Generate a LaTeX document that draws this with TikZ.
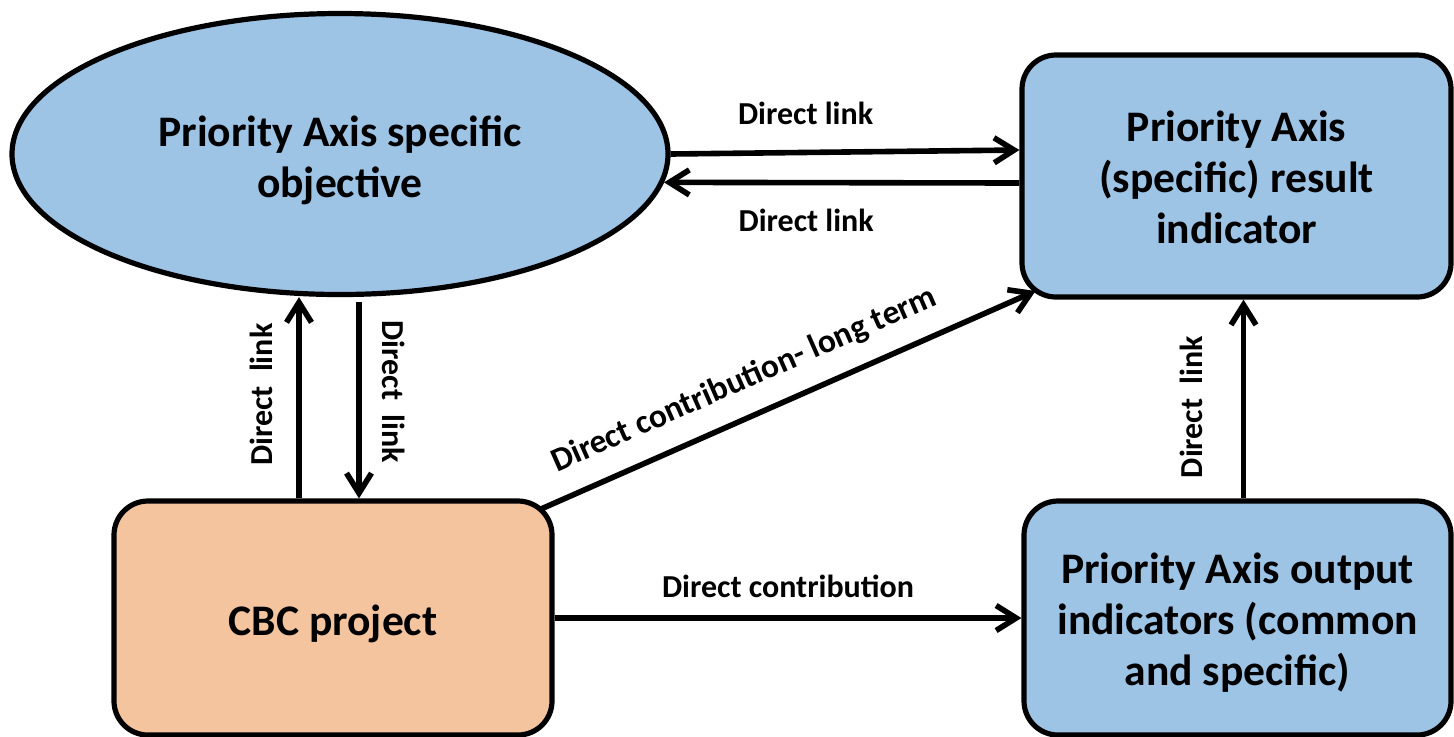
\documentclass[tikz,border=0pt]{standalone}
\usepackage{fontspec}
\setmainfont{Carlito}
\usetikzlibrary{arrows.meta,calc,shapes.geometric}
\definecolor{boxblue}{RGB}{157,195,229}
\definecolor{boxorange}{RGB}{244,196,158}
\begin{document}
\begin{tikzpicture}[x=0.5pt,y=-0.5pt,
  shapeline/.style={draw=black, line width=2.6pt, inner sep=0pt},
  roundbox/.style={shapeline, rectangle, rounded corners=17pt},
  maintext/.style={align=center, inner sep=0pt,
    font=\fontsize{21.8}{25.5}\selectfont\bfseries},
  lbl/.style={font=\fontsize{16}{19}\selectfont\bfseries, anchor=base, inner sep=0pt},
  arr/.style={line width=2.8pt, -{Straight Barb[length=10pt,width=12.5pt]}},
  ]
\useasboundingbox (0,0) rectangle (1454,736);

\node[shapeline, ellipse, fill=boxblue, minimum width=328pt, minimum height=140.5pt]
  (obj) at (340,154) {};
\node[maintext] (objtext) at ([yshift=-3pt]obj.center) {Priority Axis specific\\objective};
\node[roundbox, fill=boxblue, minimum width=214.5pt, minimum height=121pt]
  (res) at (1236.5,176) {};
\node[maintext] (restext) at ([yshift=-0.5pt]res.center) {Priority Axis\\(specific) result\\indicator};
\node[roundbox, fill=boxorange, minimum width=219pt, minimum height=117pt]
  (cbc) at (333,618) {};
\node[maintext] (cbctext) at ([yshift=-3pt]cbc.center) {CBC project};
\node[roundbox, fill=boxblue, minimum width=213.5pt, minimum height=117pt]
  (out) at (1237.5,618) {};
\node[maintext] (outtext) at ([yshift=-2.5pt]out.center) {Priority Axis output\\indicators (common\\and specific)};

% objective <-> result
\draw[arr] (obj.east) -- ([yshift=13pt]res.west)
  node[lbl, pos=0.387, yshift=13.75pt] {Direct link};
\draw[arr] ([yshift=-3.5pt]res.west) -- (obj.-5.2)
  node[lbl, pos=0.6, yshift=-24.5pt] {Direct link};

% CBC <-> objective
\draw[arr] ([xshift=-17pt]cbc.north) -- ([xshift=-17pt]cbc.north |- obj.south)
  node[lbl, pos=0.515, xshift=-13.5pt, rotate=90] {Direct\ \ link};
\draw[arr, shorten <=2.5pt] ([xshift=13pt]cbc.north |- obj.south) -- ([xshift=13pt]cbc.north)
  node[lbl, pos=0.47, xshift=11.5pt, rotate=-90] {Direct\ \ link};

% CBC -> result (diagonal)
\draw[arr] ($(cbc.center)+(208,-109)$) -- ($(res.center)+(-201,115)$)
  node[lbl, sloped, pos=0.44, yshift=13.5pt, font=\fontsize{16.75}{19}\selectfont\bfseries]
  {Direct contribution- long term};

% CBC -> output
\draw[arr] (cbc.east) -- (out.west)
  node[lbl, midway, yshift=10.5pt] {Direct contribution};

% output -> result
\draw[arr] ([xshift=3pt]out.north) -- ([xshift=3pt]out.north |- res.south)
  node[lbl, pos=0.46, xshift=-20.5pt, rotate=90] {Direct\ \ link};
\end{tikzpicture}
\end{document}
